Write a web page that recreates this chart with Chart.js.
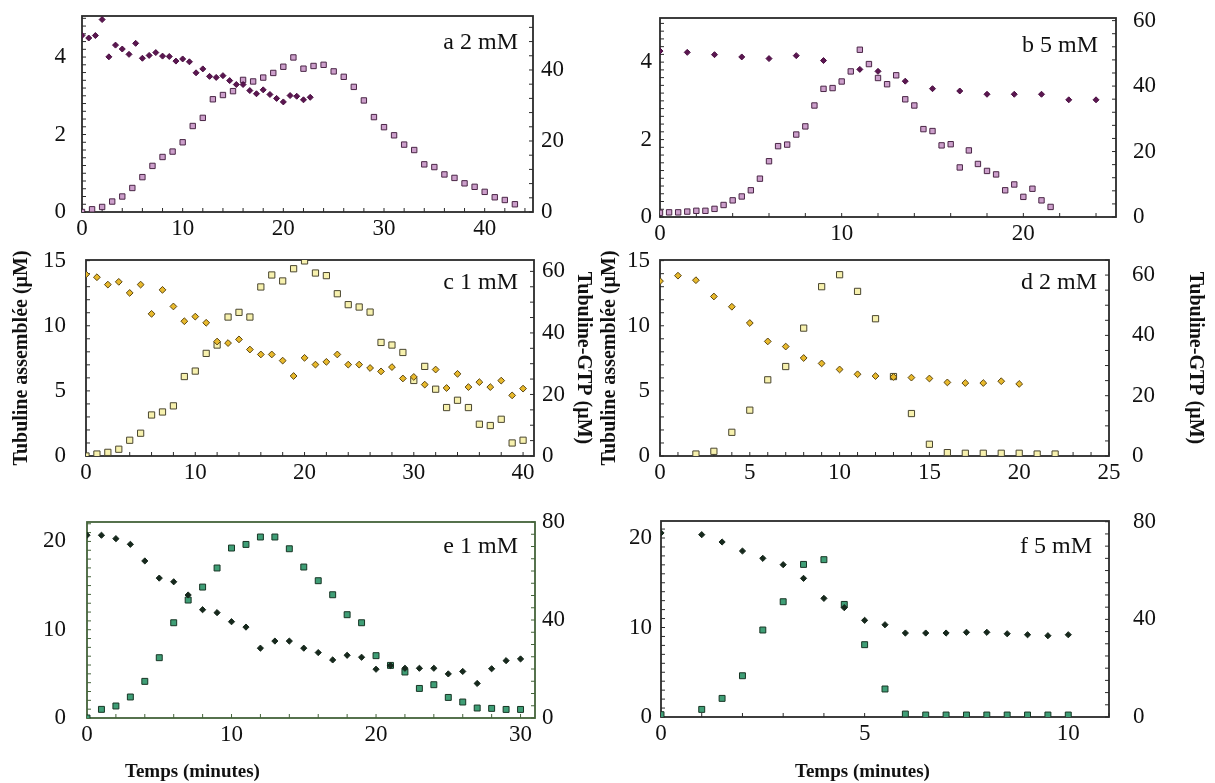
<!DOCTYPE html>
<html>
<head>
<meta charset="utf-8">
<script src="https://cdn.jsdelivr.net/npm/chart.js@4.4.1/dist/chart.umd.min.js"></script>
<style>
html, body { margin: 0; padding: 0; background: #fff; }
body { width: 1215px; height: 783px; position: relative; overflow: hidden; }
canvas { position: absolute; }
</style>
</head>
<body>
<script>
// ---- data (squares = tubuline assemblée, left axis; diamonds = tubuline-GTP, right axis)
const aSqX = [0,1,2,3,4,5,6,7,8,9,10,11,12,13,14,15,16,17,18,19,20,21,22,23,24,25,26,27,28,29,30,31,32,33,34,35,36,37,38,39,40,41,42,43];
const aSqY = [0,0.07,0.13,0.27,0.40,0.62,0.90,1.19,1.42,1.56,1.80,2.22,2.43,2.91,3.02,3.12,3.41,3.37,3.47,3.59,3.75,3.99,3.70,3.77,3.80,3.63,3.49,3.23,2.88,2.45,2.19,1.98,1.74,1.60,1.23,1.16,0.97,0.88,0.74,0.65,0.52,0.38,0.31,0.20];
const aDiaX = [0,0.67,1.33,2,2.67,3.33,4,4.67,5.33,6,6.67,7.33,8,8.67,9.33,10,10.67,11.33,12,12.67,13.33,14,14.67,15.33,16,16.67,17.33,18,18.67,19.33,20,20.67,21.33,22,22.67];
const aDiaY = [49.7,49.0,49.7,54.2,43.7,47.0,45.9,44.4,47.5,43.3,44.1,44.9,43.9,43.8,42.5,43.1,42.3,39.2,40.3,38.2,37.9,38.4,37.0,35.9,35.9,34.2,33.3,34.4,33.1,32.0,31.0,32.8,32.6,31.6,32.3];

const bSqX = [0,0.5,1,1.5,2,2.5,3,3.5,4,4.5,5,5.5,6,6.5,7,7.5,8,8.5,9,9.5,10,10.5,11,11.5,12,12.5,13,13.5,14,14.5,15,15.5,16,16.5,17,17.5,18,18.5,19,19.5,20,20.5,21,21.5];
const bSqY = [0.11,0.12,0.12,0.14,0.16,0.16,0.21,0.31,0.43,0.53,0.69,0.99,1.44,1.83,1.87,2.13,2.34,2.88,3.31,3.33,3.50,3.76,4.32,3.95,3.59,3.43,3.66,3.04,2.88,2.27,2.22,1.85,1.88,1.28,1.72,1.37,1.19,1.10,0.69,0.84,0.52,0.73,0.43,0.26];
const bDiaX = [0,1.5,3,4.5,6,7.5,9,11,12,13.5,15,16.5,18,19.5,21,22.5,24];
const bDiaY = [50.7,50.3,49.6,48.9,48.4,49.3,47.8,45.1,44.5,41.5,39.2,38.5,37.5,37.5,37.5,35.8,35.8];

const cSqX = [0,1,2,3,4,5,6,7,8,9,10,11,12,13,14,15,16,17,18,19,20,21,22,23,24,25,26,27,28,29,30,31,32,33,34,35,36,37,38,39,40];
const cSqY = [0,0.15,0.28,0.52,1.21,1.75,3.15,3.38,3.85,6.1,6.52,7.88,8.52,10.67,11.03,10.67,12.98,13.9,13.44,14.38,14.98,14.05,13.85,12.46,11.62,11.44,11.05,8.72,8.52,7.95,5.8,6.88,5.13,3.72,4.28,3.72,2.44,2.34,2.82,1.0,1.21];
const cDiaX = [0,1,2,3,4,5,6,7,8,9,10,11,12,13,14,15,16,17,18,19,20,21,22,23,24,25,26,27,28,29,30,31,32,33,34,35,36,37,38,39,40];
const cDiaY = [59.0,58.1,55.7,56.6,53.0,55.7,46.2,54.0,48.6,43.8,45.3,43.3,37.2,36.7,37.9,34.6,33.0,33.0,31.0,26.0,31.9,29.7,30.6,33.0,29.7,29.7,28.6,27.5,28.9,25.2,25.7,23.2,28.1,22.1,26.7,22.4,24.0,22.4,24.5,19.7,21.9];

const dSqX = [2,3,4,5,6,7,8,9,10,11,12,13,14,15,16,17,18,19,20,21,22];
const dSqY = [0.15,0.36,1.82,3.52,5.85,6.87,9.82,13.0,13.92,12.64,10.54,6.1,3.26,0.9,0.26,0.21,0.21,0.21,0.21,0.15,0.15];
const dDiaX = [0,1,2,3,4,5,6,7,8,9,10,11,12,13,14,15,16,17,18,19,20];
const dDiaY = [58.0,59.8,58.3,52.9,49.5,44.1,38.0,36.3,32.5,30.7,28.7,27.1,26.5,26.2,26.0,25.7,24.4,24.2,24.2,24.8,23.9];

const eSqX = [0,1,2,3,4,5,6,7,8,9,10,11,12,13,14,15,16,17,18,19,20,21,22,23,24,25,26,27,28,29,30];
const eSqY = [0,0.98,1.36,2.38,4.15,6.83,10.79,13.36,14.83,16.99,19.25,19.66,20.5,20.5,19.17,17.1,15.55,13.96,11.7,10.79,7.06,5.96,5.21,3.35,3.77,2.33,1.81,1.13,1.09,0.97,0.97];
const eDiaX = [0,1,2,3,4,5,6,7,8,9,10,11,12,13,14,15,16,17,18,19,20,21,22,23,24,25,26,27,28,29,30];
const eDiaY = [74.6,74.6,73.2,70.9,64.1,57.1,55.6,50.2,44.2,43.0,39.3,37.1,28.5,31.4,31.4,28.5,26.7,23.7,25.6,24.8,19.9,21.4,20.3,20.3,20.3,18.0,19.0,14.1,20.1,23.4,24.1];

const fSqX = [0,1,1.5,2,2.5,3,3.5,4,4.5,5,5.5,6,6.5,7,7.5,8,8.5,9,9.5,10];
const fSqY = [0.26,0.85,2.08,4.61,9.72,12.88,17.05,17.58,12.58,8.08,3.13,0.33,0.22,0.22,0.22,0.22,0.22,0.22,0.22,0.22];
const fDiaX = [0,1,1.5,2,2.5,3,3.5,4,4.5,5,5.5,6,6.5,7,7.5,8,8.5,9,9.5,10];
const fDiaY = [75.4,74.7,71.7,68.0,65.0,62.4,56.8,48.6,44.8,39.6,37.8,34.4,34.4,34.4,34.7,34.7,34.1,33.7,33.3,33.7];

// tick labels
const aXTicks = [0,10,20,30,40], aLTicks = [0,2,4], aRTicks = [0,20,40];
const bXTicks = [0,10,20], bLTicks = [0,2,4], bRTicks = [0,20,40,60];
const cXTicks = [0,10,20,30,40], cLTicks = [0,5,10,15], cRTicks = [0,20,40,60];
const dXTicks = [0,5,10,15,20,25], dLTicks = [0,5,10,15], dRTicks = [0,20,40,60];
const eXTicks = [0,10,20,30], eLTicks = [0,10,20], eRTicks = [0,40,80];
const fXTicks = [0,5,10], fLTicks = [0,10,20], fRTicks = [0,40,80];

const SERIF = '"Liberation Serif", "Times New Roman", serif';
const INK = '#111';

// frame, inward tick marks, panel label, x title
const framePlugin = {
  id: 'frame',
  beforeDatasetsDraw(chart, args, o) {
    const {ctx, chartArea: a} = chart;
    ctx.save();
    ctx.strokeStyle = o.color;
    ctx.lineWidth = 1;
    ['x', 'y', 'y2'].forEach(id => {
      const s = chart.scales[id];
      s.ticks.forEach(t => {
        const p = s.getPixelForValue(t.value);
        ctx.beginPath();
        if (id === 'x') { ctx.moveTo(p, a.bottom); ctx.lineTo(p, a.bottom - 4); }
        else if (id === 'y') { ctx.moveTo(a.left, p); ctx.lineTo(a.left + 4, p); }
        else { ctx.moveTo(a.right, p); ctx.lineTo(a.right - 4, p); }
        ctx.stroke();
      });
    });
    ctx.lineWidth = 1.8;
    ctx.strokeRect(a.left, a.top, a.right - a.left, a.bottom - a.top);
    ctx.restore();
  },
  afterDraw(chart, args, o) {
    const {ctx, chartArea: a} = chart;
    ctx.save();
    ctx.fillStyle = INK;
    ctx.font = '24px ' + SERIF;
    ctx.textAlign = 'right';
    ctx.textBaseline = 'middle';
    ctx.fillText(o.label, a.right - o.lx, a.top + o.ly);
    if (o.xTitle) {
      ctx.font = 'bold 19px ' + SERIF;
      ctx.textAlign = 'left';
      ctx.fillText(o.xTitle, a.left + o.tdx, a.bottom + o.tdy);
    }
    ctx.restore();
  }
};

function steps(max, step) {
  const out = [];
  for (let i = 0; i * step <= max + 1e-9; i++) out.push(Math.round(i * step * 1000) / 1000);
  return out;
}

function axis(pos, max, step, labels, pad, size, title) {
  return {
    type: 'linear', position: pos, min: 0, max: max,
    afterBuildTicks: s => { s.ticks = steps(max, step).map(v => ({value: v})); },
    afterFit: s => { if (pos === 'bottom') s.height = size; else s.width = size; },
    grid: {display: false, drawTicks: false},
    border: {display: false},
    ticks: {
      autoSkip: false, minRotation: 0, maxRotation: 0, padding: pad, color: INK,
      font: {family: SERIF, size: 23},
      callback: v => labels.some(l => Math.abs(l - v) < 1e-6) ? String(v) : ''
    },
    title: title ? {
      display: true, text: title.text, color: INK,
      font: {family: SERIF, size: 20, weight: 'bold'},
      padding: {top: title.pad, bottom: 0}
    } : {display: false}
  };
}

function panel(p) {
  const [L, T, R, B] = p.box;
  const pt = 40;   // larger than any scale label padding, so the plot top stays at T
  const cv = document.createElement('canvas');
  cv.width = R - L + p.wl + p.wr;
  cv.height = B - T + pt + p.hb;
  cv.style.left = (L - p.wl) + 'px';
  cv.style.top = (T - pt) + 'px';
  document.body.appendChild(cv);
  new Chart(cv.getContext('2d'), {
    type: 'scatter',
    data: {
      datasets: [
        {data: p.dx.map((x, i) => ({x: x, y: p.dy[i]})), yAxisID: 'y2', pointStyle: 'rectRot',
         pointRadius: p.dr, backgroundColor: p.dFill, borderColor: p.dLine, borderWidth: 1},
        {data: p.sx.map((x, i) => ({x: x, y: p.sy[i]})), yAxisID: 'y', pointStyle: 'rect',
         pointRadius: p.sr, backgroundColor: p.sFill, borderColor: p.sLine, borderWidth: 1}
      ]
    },
    options: {
      responsive: false, animation: false, events: [],
      layout: {padding: {top: pt, left: 0, right: 0, bottom: 0}},
      plugins: {
        legend: {display: false}, tooltip: {enabled: false},
        frame: {color: p.frame, label: p.label, lx: p.lx, ly: p.ly, xTitle: p.xTitle, tdx: p.tdx, tdy: p.tdy}
      },
      scales: {
        x: axis('bottom', p.x[0], p.x[1], p.x[2], 3, p.hb),
        y: axis('left', p.l[0], p.l[1], p.l[2], p.l[3], p.wl, p.lTitle),
        y2: axis('right', p.r[0], p.r[1], p.r[2], p.r[3], p.wr, p.rTitle)
      }
    },
    plugins: [framePlugin]
  });
}

const purple = {sFill: '#cc9fcb', sLine: '#4a2646', dFill: '#5b1650', dLine: '#4a0f42', sr: 3.8, dr: 3};
const gold = {sFill: '#f7f1ae', sLine: '#4a4630', dFill: '#e8b92c', dLine: '#5a4510', sr: 4.4, dr: 3.4};
const green = {sFill: '#3f9e76', sLine: '#173524', dFill: '#16281c', dLine: '#16281c', sr: 4.2, dr: 3.1};

panel(Object.assign({box: [82, 16, 533, 212], wl: 80, wr: 80, hb: 40, frame: '#2a2a2a',
  sx: aSqX, sy: aSqY, dx: aDiaX, dy: aDiaY,
  x: [44.8, 2, aXTicks], l: [5.06, 0.2, aLTicks, 16], r: [55.2, 4, aRTicks, 8],
  label: 'a 2 mM', lx: 15, ly: 27}, purple));

panel(Object.assign({box: [660, 18, 1116, 217], wl: 80, wr: 80, hb: 40, frame: '#2a2a2a',
  sx: bSqX, sy: bSqY, dx: bDiaX, dy: bDiaY,
  x: [25.1, 2, bXTicks], l: [5.14, 0.2, bLTicks, 8], r: [60.8, 4, bRTicks, 17],
  label: 'b 5 mM', lx: 18, ly: 28}, purple));

panel(Object.assign({box: [86, 260, 534, 456], wl: 80, wr: 80, hb: 40, frame: '#2a2a2a',
  sx: cSqX, sy: cSqY, dx: cDiaX, dy: cDiaY,
  x: [41, 2, cXTicks], l: [15.05, 1, cLTicks, 20], r: [63.7, 5, cRTicks, 8],
  lTitle: {text: 'Tubuline assemblée (µM)', pad: 4}, rTitle: {text: 'Tubuline-GTP (µM)', pad: 19},
  label: 'c 1 mM', lx: 16, ly: 23}, gold));

panel(Object.assign({box: [660, 260, 1109, 456], wl: 80, wr: 100, hb: 40, frame: '#2a2a2a',
  sx: dSqX, sy: dSqY, dx: dDiaX, dy: dDiaY,
  x: [25, 1, dXTicks], l: [15.05, 1, dLTicks, 10], r: [65, 5, dRTicks, 23],
  lTitle: {text: 'Tubuline assemblée (µM)', pad: 18}, rTitle: {text: 'Tubuline-GTP (µM)', pad: 2},
  label: 'd 2 mM', lx: 12, ly: 23}, gold));

panel(Object.assign({box: [87, 522, 535, 718], wl: 80, wr: 80, hb: 70, frame: '#44633a',
  sx: eSqX, sy: eSqY, dx: eDiaX, dy: eDiaY,
  x: [31, 2, eXTicks], l: [22.2, 1, eLTicks, 21], r: [80, 5, eRTicks, 7],
  label: 'e 1 mM', lx: 17, ly: 25, xTitle: 'Temps (minutes)', tdx: 38, tdy: 54}, green));

panel(Object.assign({box: [661, 521, 1109, 717], wl: 80, wr: 80, hb: 70, frame: '#2a2a2a',
  sx: fSqX, sy: fSqY, dx: fDiaX, dy: fDiaY,
  x: [11, 1, fXTicks], l: [21.9, 1, fLTicks, 9], r: [80.3, 5, fRTicks, 24],
  label: 'f 5 mM', lx: 17, ly: 26, xTitle: 'Temps (minutes)', tdx: 134, tdy: 55}, green));
</script>
</body>
</html>
